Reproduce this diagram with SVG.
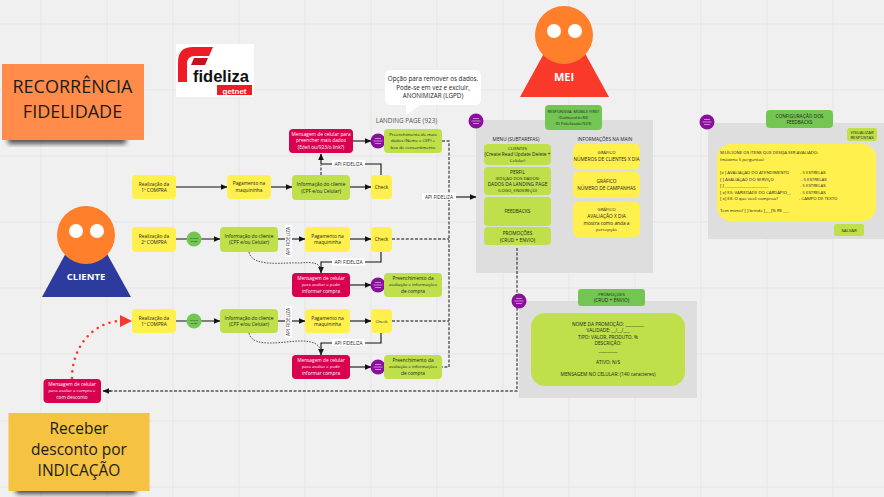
<svg xmlns="http://www.w3.org/2000/svg" width="884" height="497" viewBox="0 0 884 497">
<defs>
<style>
text{font-family:"Open Sans","Liberation Sans",sans-serif;text-anchor:middle;fill:#1c1c1c}
.t5{font-size:4.800px}.t4{font-size:4.300px}.t3{font-size:2.400px}
.w{fill:#fff}
.y{fill:#fff04d}.g{fill:#bfe04a}.r{fill:#d9004f}.d{fill:#74c653}.p{fill:#8a0f9c}.panel{fill:#dedede}
.grid{stroke:#e5e5e5;stroke-width:1;fill:none}
.s{stroke:#111;stroke-width:1.100;fill:none}
.a{marker-end:url(#ah)}
.ds{stroke:#555;stroke-width:1.400;fill:none;stroke-dasharray:3 1.600}
.dk{stroke:#444;stroke-width:.9;fill:none;stroke-dasharray:1.600 1.200}
.lb{fill:#fff}
.l{text-anchor:start}
.pm{stroke:#fff;stroke-width:.6;opacity:.85;fill:none}
</style>
<marker id="ah" markerUnits="userSpaceOnUse" markerWidth="7" markerHeight="7" refX="6" refY="3.500" orient="auto"><path d="M0 0.700L6.500 3.500L0 6.300z" fill="#111"/></marker>
<marker id="rh" markerUnits="userSpaceOnUse" markerWidth="14" markerHeight="14" refX="12" refY="6.500" orient="auto"><path d="M0 0.500L12 6.500L0 12.500z" fill="#f93a2a"/></marker>
<filter id="sh" x="-10%" y="-10%" width="120%" height="130%"><feGaussianBlur stdDeviation="2.500"/></filter>
<g id="pmark"><circle class="p" r="7.500"/><path class="pm" d="M-3 -2.500H3M-4.500 0H4.500M-3 2.500H3"/></g>
</defs>
<rect width="884" height="497" fill="#f0f0f0"/>
<path class="grid" d="M41 0V497M107 0V497M173 0V497M239 0V497M305 0V497M371 0V497M437 0V497M503 0V497M569 0V497M635 0V497M701 0V497M767 0V497M833 0V497M0 24H884M0 90H884M0 156H884M0 222H884M0 288H884M0 354H884M0 421H884M0 487H884"/>

<g id="sticky-recorrencia">
<rect x="8" y="130" width="118" height="14" fill="#555" filter="url(#sh)"/>
<rect x="2" y="64" width="142" height="76" fill="#ff8c4a"/>
<text x="72.500" y="93" style="font-size:18px">RECORRÊNCIA</text>
<text x="72.500" y="118" style="font-size:18px">FIDELIDADE</text>
</g>
<g id="logo-fideliza">
<rect x="176" y="44" width="78" height="53" fill="#fff"/>
<path d="M178 82V62Q178 47 193 47H213L209 56H195Q187 56 187 64V82z" fill="#ee1c25"/>
<path d="M194 58H208L205 65H191z" fill="#c9101a"/>
<text x="221" y="82" style="font-size:16.500px;font-weight:700;fill:#111;font-family:'Liberation Sans',sans-serif">fideliza</text>
<rect x="217" y="85" width="35" height="10" fill="#ee1c25"/>
<text x="234.500" y="93.500" class="w" style="font-size:8px;font-weight:700;font-family:'Liberation Sans',sans-serif">getnet</text>
</g>
<g id="cliente">
<path d="M86 216L131 297H42z" fill="#2d3a9e"/>
<circle cx="86" cy="235" r="29" fill="#ff7f2a"/>
<circle cx="76" cy="231" r="7" fill="#fff"/><circle cx="97" cy="231" r="7" fill="#fff"/>
<text x="86" y="280" class="w" style="font-size:9.500px;font-weight:700">CLIENTE</text>
</g>
<g id="mei">
<path d="M564.500 16L609 97H520z" fill="#f93a2a"/>
<circle cx="564" cy="35" r="29" fill="#ff7f2a"/>
<circle cx="554" cy="31" r="7" fill="#fff"/><circle cx="575" cy="31" r="7" fill="#fff"/>
<text x="564" y="81" class="w" style="font-size:11px;font-weight:700">MEI</text>
</g>
<g id="callout">
<path d="M391 70H475Q481 70 481 76V99Q481 105 475 105H420L406 115V105H391Q385 105 385 99V76Q385 70 391 70z" fill="#fff"/>
<text x="433" y="81" style="font-size:6.300px">Opção para remover os dados.</text>
<text x="433" y="89.500" style="font-size:6.300px">Pode-se em vez e excluir,</text>
<text x="433" y="98" style="font-size:6.300px">ANONIMIZAR (LGPD)</text>
</g>
<g id="panels">
<rect class="panel" x="476" y="120" width="177" height="153"/>
<rect class="panel" x="708" y="123" width="176" height="116"/>
<rect class="panel" x="519" y="301" width="178" height="97"/>
</g>

<g id="connectors">
<path class="s a" d="M176 187H227"/><path class="s a" d="M271 187H292"/><path class="s a" d="M350 187H371"/>
<path class="ds" d="M321 175V165"/><path class="s a" d="M381 175V164H321V154"/>
<path class="s a" d="M353 141H371"/>
<path class="s a" d="M176 239H220"/><path class="s a" d="M278 239H305"/><path class="s a" d="M350 239H371"/>
<path class="s a" d="M381 252V262H321V273"/>
<path class="dk" d="M249 252C252 268 285 262 300 263C312 262 320 262 321 271"/>
<path class="s a" d="M350 285H371"/>
<path class="s a" d="M176 321H220"/><path class="s a" d="M278 321H305"/><path class="s a" d="M350 321H371"/>
<path class="s a" d="M381 333V343H321V355"/>
<path class="dk" d="M249 333C252 349 285 341 300 341C312 341 320 343 321 353"/>
<path class="s a" d="M350 367H371"/>
<path class="ds" d="M442 141H449V367H442"/><path class="ds" d="M392 239H449"/><path class="ds" d="M392 321H449"/>
<path class="s a" d="M449 197H476"/>
<path class="ds" d="M517 248V391H108"/>
<path d="M111 391H103" class="s a"/>
<path d="M72 378C72 345 95 322 120 321" fill="none" stroke="#f93a2a" stroke-width="2.600" stroke-linecap="round" stroke-dasharray="0 6.500"/>
<path d="M120 321H132" fill="none" stroke="none" marker-end="url(#rh)"/>
<rect class="lb" x="332" y="160" width="33" height="7"/><text class="t5" x="348.500" y="165.500">API FIDELIZA</text>
<rect class="lb" x="332" y="258.500" width="33" height="7"/><text class="t5" x="348.500" y="264">API FIDELIZA</text>
<rect class="lb" x="332" y="339" width="33" height="7"/><text class="t5" x="348.500" y="344.500">API FIDELIZA</text>
<rect class="lb" x="422" y="193" width="34" height="7"/><text class="t5" x="439" y="198.500">API FIDELIZA</text>
<rect class="lb" x="285" y="225" width="7" height="32"/><text class="t5" transform="translate(290 241) rotate(-90)">API FIDELIZA</text>
<rect class="lb" x="285" y="306" width="7" height="32"/><text class="t5" transform="translate(290 322) rotate(-90)">API FIDELIZA</text>
</g>

<g id="r1-a"><rect class="y" x="132" y="175" width="44" height="24" rx="4"/><text class="t5" x="154" y="186">Realização da</text><text class="t5" x="154" y="192">1ª COMPRA</text></g>
<g id="r1-b"><rect class="y" x="227" y="175" width="44" height="24" rx="4"/><text class="t5" x="249" y="185">Pagamento na</text><text class="t5" x="249" y="192">maquininha</text></g>
<g id="r1-c"><rect class="g" x="292" y="175" width="58" height="25" rx="4"/><text class="t5" x="321" y="186">Informação do cliente</text><text class="t5" x="321" y="192.500">(CPF e/ou Celular)</text></g>
<g id="r1-d"><rect class="y" x="371" y="175" width="21" height="24" rx="4"/><text class="t5" x="381.500" y="189">Check</text></g>
<g id="r1-e"><rect class="r" x="289" y="129" width="64" height="24" rx="4"/><text class="t5 w" x="321" y="136">Mensagem de celular para</text><text class="t5 w" x="321" y="142">preencher mais dados</text><text class="t5 w" x="321" y="149">(Edeli ou/923/o link?)</text></g>
<use href="#pmark" id="r1-p" x="378" y="141"/>
<g id="r1-f"><rect class="g" x="384" y="129" width="58" height="24" rx="4"/><text class="t4" x="413" y="136">Preenchimento de mais</text><text class="t4" x="413" y="142">dados (Nome e CEP) +</text><text class="t4" x="413" y="149">box de consentimento</text></g>

<g id="r2-a"><rect class="y" x="132" y="227" width="44" height="25" rx="4"/><text class="t5" x="154" y="237.500">Realização da</text><text class="t5" x="154" y="244">2ª COMPRA</text></g>
<g id="r2-n"><circle class="d" cx="194" cy="239" r="7.500"/><text class="t3" x="194" y="238.500">Leitura</text><text class="t3" x="194" y="241.500">do QR</text></g>
<g id="r2-b"><rect class="g" x="220" y="227" width="58" height="25" rx="4"/><text class="t5" x="249" y="237.500">Informação do cliente</text><text class="t5" x="249" y="244">(CPF e/ou Celular)</text></g>
<g id="r2-c"><rect class="y" x="305" y="227" width="45" height="25" rx="4"/><text class="t5" x="327.500" y="237.500">Pagamento na</text><text class="t5" x="327.500" y="244">maquininha</text></g>
<g id="r2-d"><rect class="y" x="371" y="227" width="21" height="25" rx="4"/><text class="t5" x="381.500" y="241">Check</text></g>
<g id="r2-e"><rect class="r" x="292" y="273" width="58" height="24" rx="4"/><text class="t5 w" x="321" y="280">Mensagem de celular</text><text class="t4 w" x="321" y="286">para avaliar e pedir</text><text class="t5 w" x="321" y="292.500">informar compra</text></g>
<use href="#pmark" id="r2-p" x="378" y="285"/>
<g id="r2-f"><rect class="g" x="384" y="273" width="58" height="24" rx="4"/><text class="t5" x="413" y="280">Preenchimento da</text><text class="t4" x="413" y="286">avaliação e informações</text><text class="t5" x="413" y="292.500">de compra</text></g>

<g id="r3-a"><rect class="y" x="132" y="309" width="44" height="24" rx="4"/><text class="t5" x="154" y="319.500">Realização da</text><text class="t5" x="154" y="326">1ª COMPRA</text></g>
<g id="r3-n"><circle class="d" cx="194" cy="321" r="7.500"/><text class="t3" x="194" y="320.500">Leitura</text><text class="t3" x="194" y="323.500">do QR</text></g>
<g id="r3-b"><rect class="g" x="220" y="309" width="58" height="24" rx="4"/><text class="t5" x="249" y="319.500">Informação do cliente</text><text class="t5" x="249" y="326">(CPF e/ou Celular)</text></g>
<g id="r3-c"><rect class="y" x="305" y="309" width="45" height="24" rx="4"/><text class="t5" x="327.500" y="319.500">Pagamento na</text><text class="t5" x="327.500" y="326">maquininha</text></g>
<g id="r3-d"><rect class="y" x="371" y="309" width="21" height="24" rx="4"/><text class="t4" x="381.500" y="323">Check</text></g>
<g id="r3-e"><rect class="r" x="292" y="355" width="58" height="24" rx="4"/><text class="t5 w" x="321" y="362">Mensagem de celular</text><text class="t4 w" x="321" y="368">para avaliar e pedir</text><text class="t5 w" x="321" y="374.500">informar compra</text></g>
<use href="#pmark" id="r3-p" x="378" y="367"/>
<g id="r3-f"><rect class="g" x="384" y="355" width="58" height="24" rx="4"/><text class="t5" x="413" y="362">Preenchimento da</text><text class="t4" x="413" y="368">avaliação e informações</text><text class="t5" x="413" y="374.500">de compra</text></g>

<g id="msg-desconto"><rect class="r" x="43.500" y="379" width="57.500" height="24" rx="4"/><text class="t5 w" x="72" y="386">Mensagem de celular</text><text class="t4 w" x="72" y="392">para avaliar a compra e</text><text class="t5 w" x="72" y="398.500">com desconto</text></g>
<g id="sticky-indicacao">
<rect x="16" y="482" width="120" height="12" fill="#444" filter="url(#sh)"/>
<rect x="8.500" y="413" width="141" height="78" fill="#f5c242"/>
<text x="79" y="434" style="font-size:15.500px">Receber</text>
<text x="79" y="454.500" style="font-size:15.500px">desconto por</text>
<text x="79" y="476" style="font-size:15.500px">INDICAÇÃO</text>
</g>

<g id="landing-label"><text x="406.500" y="123" style="font-size:6.300px;fill:#555">LANDING PAGE (923)</text></g>
<use href="#pmark" id="p-mei" x="476" y="121"/>
<g id="mei-head"><rect class="d" x="545" y="105" width="57" height="25" rx="4"/><text x="573.500" y="113" style="font-size:4px">RESPONSIVA: MOBILE FIRST</text><text x="573.500" y="118.500" style="font-size:3.300px">(Dashboard do MEI</text><text class="t4" x="573.500" y="125">ID Fidelizado/923)</text></g>
<text x="516" y="141" style="font-size:4.800px">MENU (SUBTAREFAS)</text>
<text x="605" y="141" style="font-size:4.800px">INFORMAÇÕES NA MAIN</text>
<g id="m1"><rect class="g" x="484" y="144" width="67" height="21" rx="4"/><text class="t4" x="517.500" y="149.500">CLIENTES</text><text class="t5" x="517.500" y="155.500">(Create Read Update Delete +</text><text class="t4" x="517.500" y="162">Celular)</text></g>
<g id="m2"><rect class="g" x="484" y="167" width="67" height="28" rx="4"/><text class="t5" x="517.500" y="173.500">PERFIL</text><text class="t4" x="517.500" y="179.500">(EDIÇÃO DOS DADOS)</text><text class="t5" x="517.500" y="185.500">DADOS DA LANDING PAGE</text><text class="t4" x="517.500" y="192">(LOGO, ENDEREÇO)</text></g>
<g id="m3"><rect class="g" x="484" y="197" width="67" height="29" rx="4"/><text class="t5" x="517.500" y="213">FEEDBACKS</text></g>
<g id="m4"><rect class="g" x="484" y="227" width="67" height="18" rx="4"/><text class="t5" x="517.500" y="234.500">PROMOÇÕES</text><text class="t5" x="517.500" y="241.500">(CRUD + ENVIO)</text></g>
<g id="i1"><rect class="y" x="573" y="144" width="67" height="25" rx="5"/><text class="t4" x="606.500" y="154">GRÁFICO</text><text class="t5" x="606.500" y="160.500">NÚMEROS DE CLIENTES X DIA</text></g>
<g id="i2"><rect class="y" x="573" y="172" width="67" height="26" rx="5"/><text class="t5" x="606.500" y="183">GRÁFICO</text><text class="t5" x="606.500" y="189.500">NÚMERO DE CAMPANHAS</text></g>
<g id="i3"><rect class="y" x="573" y="202" width="67" height="35" rx="5"/><text class="t4" x="606.500" y="211">GRÁFICO</text><text class="t5" x="606.500" y="218">AVALIAÇÃO X DIA</text><text class="t5" x="606.500" y="224.500">mostra como anda a</text><text class="t4" x="606.500" y="231">percepção</text></g>

<use href="#pmark" id="p-cfg" x="707" y="122"/>
<g id="cfg-head"><rect class="d" x="766" y="110" width="67" height="18" rx="4"/><text class="t5" x="799.500" y="117.500">CONFIGURAÇÃO DOS</text><text class="t5" x="799.500" y="124">FEEDBACKS</text></g>
<g id="cfg-vis"><rect class="g" x="847" y="128" width="30" height="13" rx="3"/><text class="t4" x="862" y="133.500">VISUALIZAR</text><text class="t4" x="862" y="139">RESPOSTAS</text></g>
<g id="cfg-form"><rect class="y" x="717" y="144" width="159" height="77" rx="14"/>
<text class="t4 l" x="720" y="154">SELECIONE OS ITENS QUE DESEJA SER AVALIADO:</text>
<text class="t4 l" x="720" y="161">(máximo 5 perguntas)</text>
<text class="t4 l" x="720" y="174">[x ] AVALIAÇÃO DO ATENDIMENTO</text><text class="t4 l" x="800" y="174">- 5 ESTRELAS</text>
<text class="t4 l" x="720" y="180.500">[   ] AVALIAÇÃO DO SERVIÇO</text><text class="t4 l" x="801" y="180.500">- 5 ESTRELAS</text>
<text class="t4 l" x="720" y="187">[   ] _______________________</text><text class="t4 l" x="800" y="187">- 5 ESTRELAS</text>
<text class="t4 l" x="720" y="193.500">[ x] EX: VARIEDADE DO CARDÁPIO__</text><text class="t4 l" x="800" y="193.500">- 5 ESTRELAS</text>
<text class="t4 l" x="720" y="199.500">[ x] EX: O que você comprou?</text><text class="t4 l" x="799" y="199.500">- CAMPO DE TEXTO</text>
<text class="t4 l" x="720" y="212">Tem mimo? [ ] brinde  [___]% R$ ___</text>
</g>
<g id="cfg-save"><rect class="g" x="834" y="224" width="30" height="12" rx="2"/><text class="t4" x="849" y="231.500">SALVAR</text></g>

<use href="#pmark" id="p-promo" x="519" y="301"/>
<g id="promo-head"><rect class="d" x="578" y="289" width="67" height="17" rx="3"/><text class="t4" x="611.500" y="295.500">PROMOÇÕES</text><text class="t5" x="611.500" y="302">(CRUD + ENVIO)</text></g>
<g id="promo-form"><rect class="g" x="531" y="313" width="154" height="73" rx="14"/>
<text class="t5" x="608" y="326">NOME DA PROMOÇÃO: _________</text>
<text class="t5" x="608" y="332">VALIDADE: __/__/___</text>
<text class="t5" x="608" y="338.500">TIPO: VALOR, PRODUTO, %</text>
<text class="t5" x="608" y="344.500">DESCRIÇÃO:</text>
<text class="t5" x="608" y="352">_________</text>
<text class="t5" x="608" y="364">ATIVO: N/S</text>
<text class="t5" x="608" y="376">MENSAGEM NO CELULAR: (140 caracteres)</text>
</g>
</svg>
